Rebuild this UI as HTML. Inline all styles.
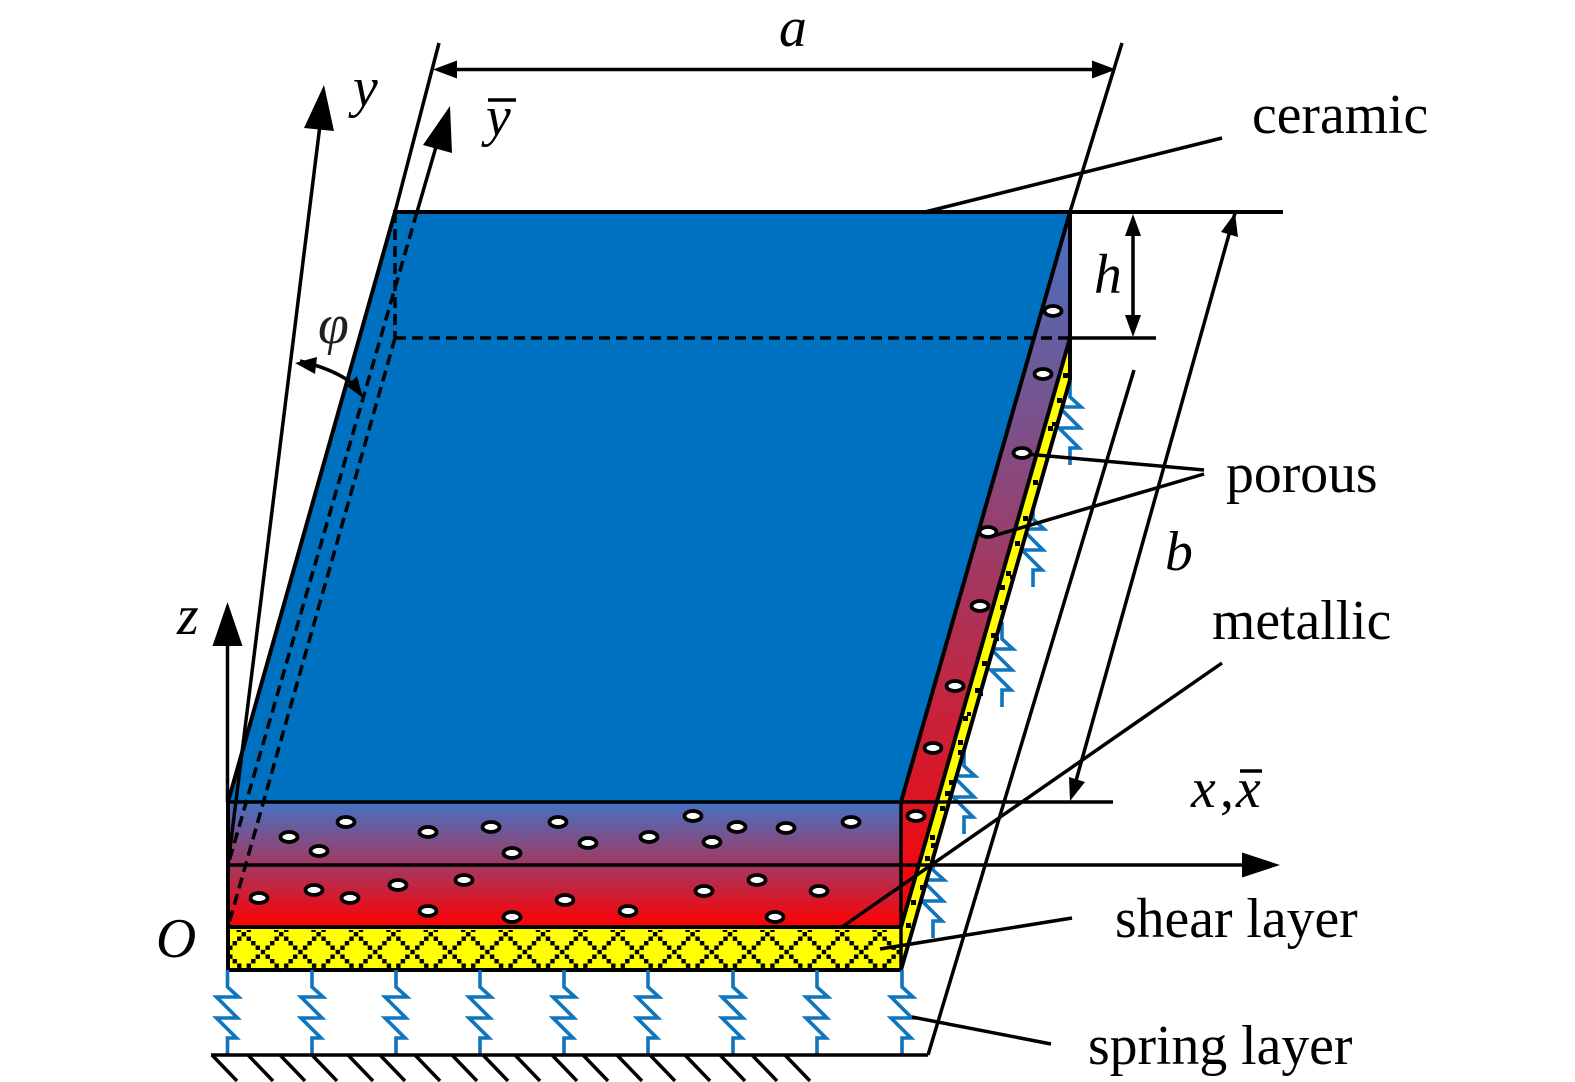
<!DOCTYPE html>
<html>
<head>
<meta charset="utf-8">
<style>
html,body{margin:0;padding:0;background:#fff}
svg{display:block}
text{font-family:"Liberation Serif",serif;font-size:55.7px;fill:#000}
.i{font-style:italic}
</style>
</head>
<body>
<svg width="1575" height="1082" viewBox="0 0 1575 1082" xmlns="http://www.w3.org/2000/svg">
<defs>
<linearGradient id="g1" gradientUnits="userSpaceOnUse" x1="0" y1="802" x2="0" y2="927">
<stop offset="0" stop-color="#4472C4"/><stop offset="1" stop-color="#FF0000"/>
</linearGradient>
<linearGradient id="g2" gradientUnits="userSpaceOnUse" x1="0" y1="212" x2="0" y2="927">
<stop offset="0" stop-color="#4472C4"/><stop offset="1" stop-color="#FF0000"/>
</linearGradient>
<pattern id="lat" patternUnits="userSpaceOnUse" width="37.4" height="40" patternTransform="translate(263 930)">
<rect width="37.4" height="40" fill="#ffff00"/>
<g fill="#000">
<rect x="-2.2" y="19.8" width="4.4" height="4.4"/><rect x="35.2" y="19.8" width="4.4" height="4.4"/>
<rect x="2.5" y="15.5" width="4.4" height="4.4"/><rect x="7" y="11" width="4.4" height="4.4"/>
<rect x="11.5" y="6.5" width="4.4" height="4.4"/><rect x="16" y="2" width="4.4" height="4.4"/>
<rect x="21" y="6.5" width="4.4" height="4.4"/><rect x="25.5" y="11" width="4.4" height="4.4"/>
<rect x="30" y="15.5" width="4.4" height="4.4"/>
<rect x="2.5" y="24.5" width="4.4" height="4.4"/><rect x="7" y="29" width="4.4" height="4.4"/>
<rect x="11.5" y="33.5" width="4.4" height="4.4"/>
<rect x="21" y="33.5" width="4.4" height="4.4"/>
<rect x="25.5" y="29" width="4.4" height="4.4"/><rect x="30" y="24.5" width="4.4" height="4.4"/>
<rect x="11" y="-1" width="4.4" height="3"/><rect x="21" y="-1" width="4.4" height="3"/>
</g>
</pattern>
<polyline id="sp" points="0,0 0,17 11,27 -11,27 10,48 -11,48 9,68 0,68 0,85" fill="none" stroke="#0F75BD" stroke-width="3.6"/>
</defs>

<!-- springs on right -->
<use href="#sp" x="1070" y="380"/>
<use href="#sp" x="1033" y="502"/>
<use href="#sp" x="1002" y="622"/>
<use href="#sp" x="964" y="749"/>
<use href="#sp" x="933" y="853"/>

<!-- faces -->
<polygon points="395,212 1070,212 901,802 228,802" fill="#0070C0"/>
<polygon points="901,802 1070,212 1070,338 901,927" fill="url(#g2)"/>
<polygon points="901,927 1070,338 1070,380 901,970" fill="#ffff00"/>
<rect x="228" y="802" width="673" height="125" fill="url(#g1)"/>
<rect x="228" y="927" width="673" height="43" fill="url(#lat)"/>

<!-- strip squares -->
<g fill="#000">
<rect x="1063" y="373" width="5" height="5"/><rect x="1057" y="398" width="5" height="5"/>
<rect x="1048" y="426" width="5" height="5"/><rect x="1052" y="422" width="4" height="4"/>
<rect x="1033" y="480" width="5" height="5"/><rect x="1023" y="516" width="5" height="5"/>
<rect x="1015" y="541" width="5" height="5"/><rect x="1006" y="571" width="5" height="5"/>
<rect x="1010" y="575" width="4" height="4"/><rect x="1000" y="585" width="5" height="5"/>
<rect x="1000" y="605" width="5" height="5"/><rect x="991" y="633" width="5" height="5"/>
<rect x="995" y="637" width="4" height="4"/><rect x="982" y="661" width="5" height="5"/>
<rect x="975" y="688" width="5" height="5"/><rect x="979" y="692" width="4" height="4"/>
<rect x="963" y="716" width="5" height="5"/><rect x="967" y="712" width="4" height="4"/>
<rect x="958" y="740" width="5" height="5"/><rect x="958" y="750" width="5" height="5"/>
<rect x="949" y="780" width="5" height="5"/><rect x="945" y="791" width="5" height="5"/>
<rect x="940" y="806" width="5" height="5"/><rect x="930" y="835" width="5" height="5"/>
<rect x="931" y="843" width="5" height="5"/><rect x="925" y="856" width="5" height="5"/>
<rect x="920" y="885" width="5" height="5"/><rect x="911" y="900" width="5" height="5"/>
<rect x="906" y="923" width="5" height="5"/>
</g>

<!-- solid geometry outlines -->
<g fill="none" stroke="#000" stroke-width="3.5">
<line x1="393" y1="212" x2="1283" y2="212" stroke-width="4"/>
<line x1="439" y1="43" x2="395" y2="212"/>
<line x1="395" y1="212" x2="228" y2="802" stroke-width="4"/>
<line x1="1122" y1="43" x2="1070" y2="212"/>
<line x1="1070" y1="212" x2="901" y2="802" stroke-width="4"/>
<line x1="1070" y1="212" x2="1070" y2="380" stroke-width="4"/>
<line x1="1070" y1="338" x2="1156" y2="338"/>
<line x1="1070" y1="338" x2="901" y2="927" stroke-width="4"/>
<line x1="1070" y1="380" x2="901" y2="970" stroke-width="4"/>
<line x1="228" y1="802" x2="1113" y2="802"/>
<line x1="228" y1="865" x2="1245" y2="865"/>
<line x1="228" y1="927" x2="901" y2="927" stroke-width="4"/>
<line x1="226" y1="970" x2="903" y2="970" stroke-width="4"/>
<line x1="228" y1="802" x2="228" y2="970" stroke-width="4"/>
<line x1="901" y1="802" x2="901" y2="970" stroke-width="3.5"/>
<line x1="227.5" y1="640" x2="227.5" y2="802"/>
<line x1="228" y1="865" x2="320" y2="125"/>
<line x1="417" y1="212" x2="438" y2="140"/>
</g>

<!-- dashed -->
<g fill="none" stroke="#000" stroke-width="3.5" stroke-dasharray="11 6">
<line x1="395" y1="212" x2="395" y2="338"/>
<line x1="395" y1="338" x2="1070" y2="338"/>
<line x1="395" y1="338" x2="228" y2="927"/>
<line x1="417" y1="212" x2="228" y2="865"/>
</g>

<!-- springs below -->
<use href="#sp" x="227.5" y="970"/>
<use href="#sp" x="312" y="970"/>
<use href="#sp" x="396" y="970"/>
<use href="#sp" x="480" y="970"/>
<use href="#sp" x="564" y="970"/>
<use href="#sp" x="648" y="970"/>
<use href="#sp" x="733" y="970"/>
<use href="#sp" x="817" y="970"/>
<use href="#sp" x="902" y="970"/>

<!-- ground -->
<g stroke="#000" stroke-width="3.5" fill="none">
<line x1="211" y1="1055" x2="928" y2="1055"/>
<path d="M212 1055l25 26M248 1055l25 26M280 1055l25 26M312 1055l25 26M348 1055l25 26M380 1055l25 26M415 1055l25 26M452 1055l25 26M483 1055l25 26M515 1055l25 26M552 1055l25 26M583 1055l25 26M617 1055l25 26M650 1055l25 26M685 1055l25 26M720 1055l25 26M752 1055l25 26M785 1055l25 26"/>
</g>

<!-- long lines and leaders -->
<g fill="none" stroke="#000" stroke-width="3.5">
<line x1="1134" y1="370" x2="928" y2="1055"/>
<line x1="1235" y1="213" x2="1072" y2="795"/>
<line x1="1133" y1="225" x2="1133" y2="325"/>
<line x1="445" y1="69.5" x2="1105" y2="69.5"/>
<line x1="925" y1="212" x2="1222" y2="138"/>
<line x1="1026" y1="454" x2="1204" y2="470"/>
<line x1="993" y1="536" x2="1204" y2="474"/>
<line x1="842" y1="927" x2="1222" y2="663"/>
<line x1="880" y1="949" x2="1072" y2="918"/>
<line x1="912" y1="1017" x2="1051" y2="1044"/>
<path d="M300 361Q338 370 358 388"/>
</g>

<!-- arrowheads -->
<g fill="#000">
<polygon points="433,69.5 457,60.5 457,78.5"/>
<polygon points="1116,69.5 1092,60.5 1092,78.5"/>
<polygon points="1133,214 1125,236 1141,236"/>
<polygon points="1133,337 1125,315 1141,315"/>
<polygon points="1235,213 1238,237 1221,232"/>
<polygon points="1070,801 1085,782 1069,777"/>
<polygon points="1280,865 1242,852.5 1242,877.5"/>
<polygon points="227.5,602 212.5,646 242.5,646"/>
<polygon points="324,85 304,128 334,131"/>
<polygon points="450,106 423,145 452,153"/>
<polygon points="295,363 317,357 315,374"/>
<polygon points="363,398 357,376 347,386"/>
</g>

<!-- pores -->
<g fill="#fff" stroke="#000" stroke-width="3.8">
<ellipse cx="289" cy="837" rx="8.5" ry="5"/><ellipse cx="319" cy="851" rx="8.5" ry="5"/>
<ellipse cx="346" cy="822" rx="8.5" ry="5"/><ellipse cx="428" cy="832" rx="8.5" ry="5"/>
<ellipse cx="491" cy="827" rx="8.5" ry="5"/><ellipse cx="512" cy="853" rx="8.5" ry="5"/>
<ellipse cx="558" cy="822" rx="8.5" ry="5"/><ellipse cx="588" cy="843" rx="8.5" ry="5"/>
<ellipse cx="649" cy="837" rx="8.5" ry="5"/><ellipse cx="693" cy="816" rx="8.5" ry="5"/>
<ellipse cx="712" cy="842" rx="8.5" ry="5"/><ellipse cx="737" cy="827" rx="8.5" ry="5"/>
<ellipse cx="786" cy="828" rx="8.5" ry="5"/><ellipse cx="851" cy="822" rx="8.5" ry="5"/>
<ellipse cx="259" cy="898" rx="8.5" ry="5"/><ellipse cx="314" cy="890" rx="8.5" ry="5"/>
<ellipse cx="350" cy="898" rx="8.5" ry="5"/><ellipse cx="398" cy="885" rx="8.5" ry="5"/>
<ellipse cx="464" cy="880" rx="8.5" ry="5"/><ellipse cx="428" cy="911" rx="8.5" ry="5"/>
<ellipse cx="512" cy="917" rx="8.5" ry="5"/><ellipse cx="565" cy="900" rx="8.5" ry="5"/>
<ellipse cx="628" cy="911" rx="8.5" ry="5"/><ellipse cx="704" cy="891" rx="8.5" ry="5"/>
<ellipse cx="757" cy="880" rx="8.5" ry="5"/><ellipse cx="775" cy="917" rx="8.5" ry="5"/>
<ellipse cx="819" cy="891" rx="8.5" ry="5"/>
<ellipse cx="916" cy="816" rx="8.5" ry="5"/><ellipse cx="933" cy="748" rx="8.5" ry="5"/>
<ellipse cx="955" cy="686" rx="8.5" ry="5"/><ellipse cx="980" cy="606" rx="8.5" ry="5"/>
<ellipse cx="988" cy="532" rx="8.5" ry="5"/><ellipse cx="1022" cy="453" rx="8.5" ry="5"/>
<ellipse cx="1043" cy="374" rx="8.5" ry="5"/><ellipse cx="1053" cy="311" rx="8.5" ry="5"/>
</g>

<!-- labels -->
<text x="1252" y="133">ceramic</text>
<text x="1226" y="492">porous</text>
<text x="1212" y="639">metallic</text>
<text x="1115" y="937">shear layer</text>
<text x="1088" y="1064">spring layer</text>
<text class="i" x="779" y="46">a</text>
<text class="i" x="1165" y="570">b</text>
<text class="i" x="1094" y="293">h</text>
<text class="i" x="353" y="106">y</text>
<text class="i" x="486" y="135">y</text>
<line x1="488" y1="100" x2="516" y2="100" stroke="#000" stroke-width="3.5"/>
<text class="i" x="318" y="343" style="fill:#231f20">φ</text>
<text class="i" x="177" y="634">z</text>
<text class="i" x="156" y="957">O</text>
<text class="i" x="1191" y="807">x</text>
<text x="1220" y="807">,</text>
<text class="i" x="1236" y="807">x</text>
<line x1="1240" y1="771" x2="1262" y2="771" stroke="#000" stroke-width="3.5"/>
</svg>
</body>
</html>
